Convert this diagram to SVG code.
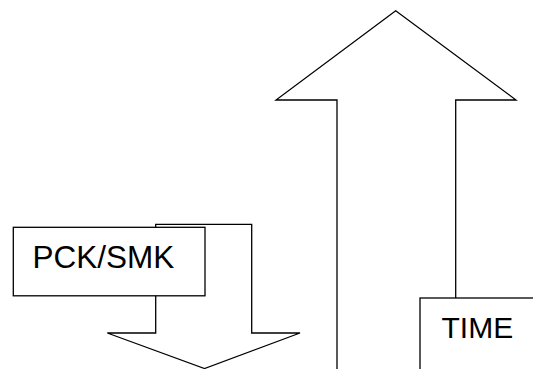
<svg xmlns="http://www.w3.org/2000/svg" width="533" height="369" viewBox="0 0 533 369">
<style>
.s{fill:#fff;stroke:#000;stroke-width:1.3;stroke-linejoin:miter}
.t{font-family:"Liberation Sans",Arial,sans-serif;fill:#000}
</style>
<rect width="533" height="369" fill="#fff"/>
<g id="connectors">
<polygon id="arrow-up" class="s" points="337,380 337,100 276,100 395.7,10.7 516,100 455.7,100 455.7,380"/>
<polygon id="arrow-down" class="s" points="155.7,224.3 251.7,224.3 251.7,333 300,333 204.5,368.5 107.3,333 155.7,333"/>
</g>
<g id="pck-smk">
<rect class="s" x="13.3" y="227.3" width="191.7" height="68.5"/>
<text class="t" x="32.5" y="268.3" font-size="31.5">PCK/SMK</text>
</g>
<g id="time">
<rect class="s" x="420" y="298" width="130" height="90"/>
<text class="t" x="441.5" y="337.7" font-size="30">TIME</text>
</g>
</svg>
